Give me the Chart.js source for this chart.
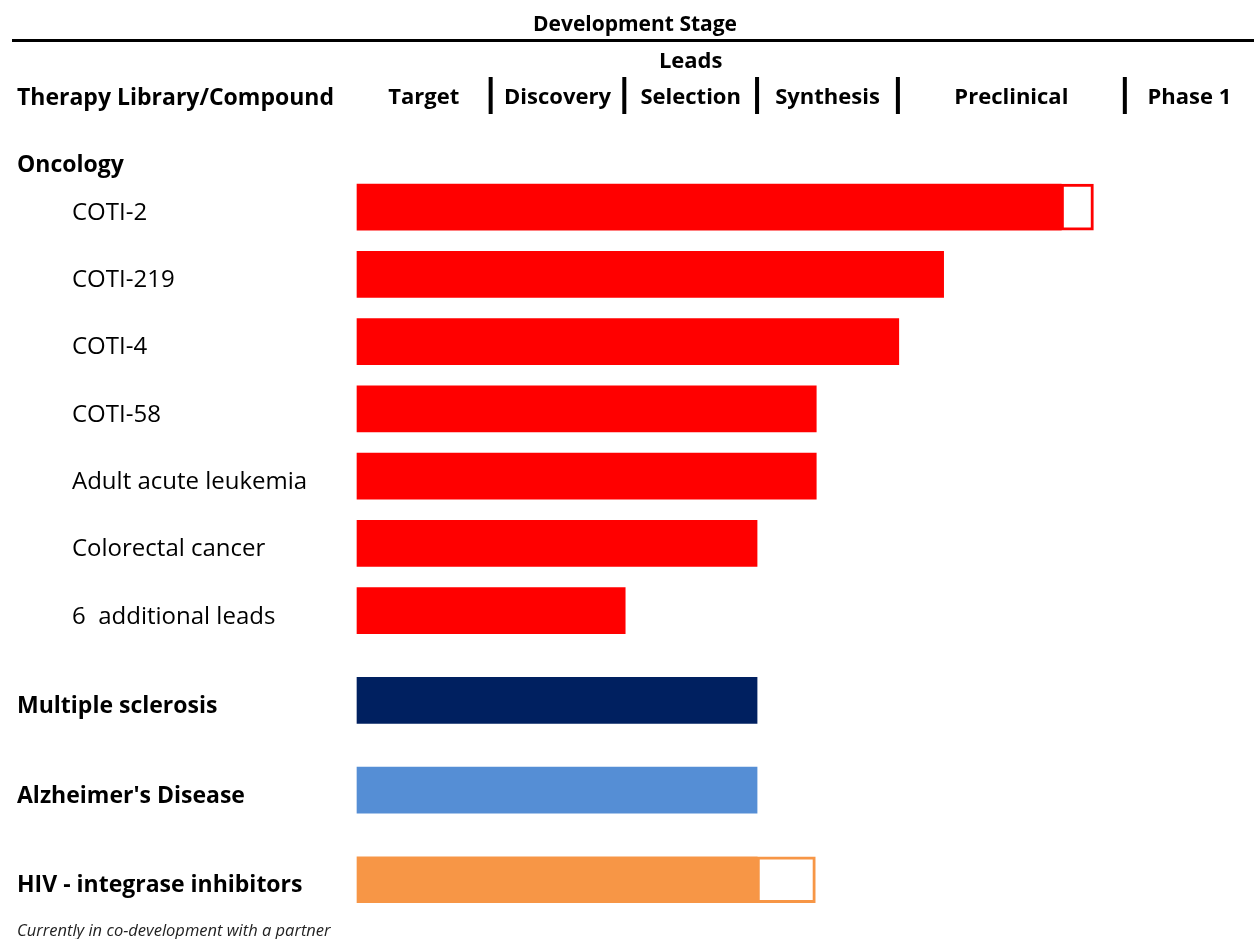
<!DOCTYPE html>
<html>
<head>
<meta charset="utf-8">
<script src="https://cdn.jsdelivr.net/npm/chart.js@4/dist/chart.umd.min.js"></script>
<style>
  html, body { margin: 0; padding: 0; background: #fff; }
  #wrap { position: relative; width: 1254px; height: 939px; }
</style>
</head>
<body>
<div id="wrap"><canvas id="c" width="1254" height="939"></canvas></div>
<script>
// ---- data ----
const categories = ['Oncology', 'COTI-2', 'COTI-219', 'COTI-4', 'COTI-58', 'Adult acute leukemia',
  'Colorectal cancer', '6  additional leads', 'Multiple sclerosis', "Alzheimer's Disease", 'HIV - integrase inhibitors'];
const isHeading = [true, false, false, false, false, false, false, false, true, true, true];
// progress along the development pipeline (% of axis)
const completed = [null, 78.5, 65.4, 60.4, 51.2, 51.2, 44.6, 29.9, 44.6, 44.6, 44.6];
const inProgress = [null, 3.6, null, null, null, null, null, null, null, null, 6.5];
const stageNames = ['Target', 'Discovery', 'Leads|Selection', 'Synthesis', 'Preclinical', 'Phase 1'];
const stageBounds = [0, 14.9, 29.8, 44.6, 60.3, 85.6, 100];
const headerTitle = 'Development Stage';
const columnTitle = 'Therapy Library/Compound';
const footnote = 'Currently in co-development with a partner';

// ---- styles ----
const RED = '#FF0000', NAVY = '#002060', BLUE = '#558ED5', ORANGE = '#F79646';
const groupColor = [RED, RED, RED, RED, RED, RED, RED, RED, NAVY, BLUE, ORANGE];
const FONT = '"Open Sans", sans-serif';

// build slotted category table (spacer slots give uneven spacing)
const labels = [], doneData = [], progData = [], fillCols = [], lineCols = [], slotIdx = [];
categories.forEach((c, i) => {
  if (i > 0) {
    const gap = (isHeading[i - 1] && !isHeading[i]) ? 2 : (!isHeading[i] ? 3 : 4);
    for (let k = 1; k < gap; k++) { labels.push(''); doneData.push(null); progData.push(null); fillCols.push('#fff'); lineCols.push('#fff'); }
  }
  slotIdx.push(labels.length);
  labels.push(c); doneData.push(completed[i]); progData.push(inProgress[i]);
  fillCols.push(groupColor[i]); lineCols.push(groupColor[i]);
});

const decor = {
  id: 'decor',
  afterDraw(chart) {
    const ctx = chart.ctx, x = chart.scales.x, y = chart.scales.y;
    ctx.save();
    ctx.fillStyle = '#000';
    ctx.textBaseline = 'middle';
    // title
    ctx.font = 'bold 21px ' + FONT;
    ctx.textAlign = 'center';
    ctx.fillText(headerTitle, 635, 25);
    // rule
    ctx.fillRect(12, 39, 1242, 3);
    // column titles
    ctx.font = 'bold 23px ' + FONT;
    ctx.textAlign = 'left';
    ctx.fillText(columnTitle, 17, 98);
    ctx.font = 'bold 22px ' + FONT;
    ctx.textAlign = 'center';
    stageNames.forEach((s, i) => {
      const cx = (x.getPixelForValue(stageBounds[i]) + x.getPixelForValue(stageBounds[i + 1])) / 2;
      const parts = s.split('|');
      if (parts.length === 2) {
        ctx.fillText(parts[0], cx, 62);
        ctx.fillText(parts[1], cx, 98);
      } else ctx.fillText(s, cx, 98);
    });
    for (let i = 1; i < stageBounds.length - 1; i++) {
      const px = x.getPixelForValue(stageBounds[i]);
      ctx.fillRect(px - 2, 77, 4, 37);
    }
    // row labels
    ctx.textAlign = 'left';
    categories.forEach((c, i) => {
      const py = y.getPixelForValue(slotIdx[i]) + (i === 0 ? 3 : 6);
      if (isHeading[i]) { ctx.font = 'bold 23px ' + FONT; ctx.fillText(c, 17, py); }
      else { ctx.font = '24px ' + FONT; ctx.fillText(c, 72, py); }
    });
    // footnote
    ctx.font = 'italic 16.5px ' + FONT;
    ctx.fillStyle = '#222';
    ctx.fillText(footnote, 17, 931);
    ctx.restore();
  }
};

new Chart(document.getElementById('c'), {
  type: 'bar',
  data: {
    labels: labels,
    datasets: [
      { label: 'Completed', data: doneData, backgroundColor: fillCols, borderWidth: 0, barThickness: 46, stack: 's', clip: false },
      { label: 'In progress', data: progData, backgroundColor: '#ffffff', borderColor: lineCols, borderWidth: 3,
        borderSkipped: false, barThickness: 46, stack: 's', clip: false }
    ]
  },
  options: {
    indexAxis: 'y',
    responsive: false,
    animation: false,
    layout: { padding: { left: 357, right: 0, top: 151, bottom: 48 } },
    plugins: { legend: { display: false }, tooltip: { enabled: false } },
    scales: {
      x: { type: 'linear', min: 0, max: 100, stacked: true, display: false },
      y: { type: 'category', stacked: true, offset: true, display: false }
    }
  },
  plugins: [decor]
});
</script>
</body>
</html>
